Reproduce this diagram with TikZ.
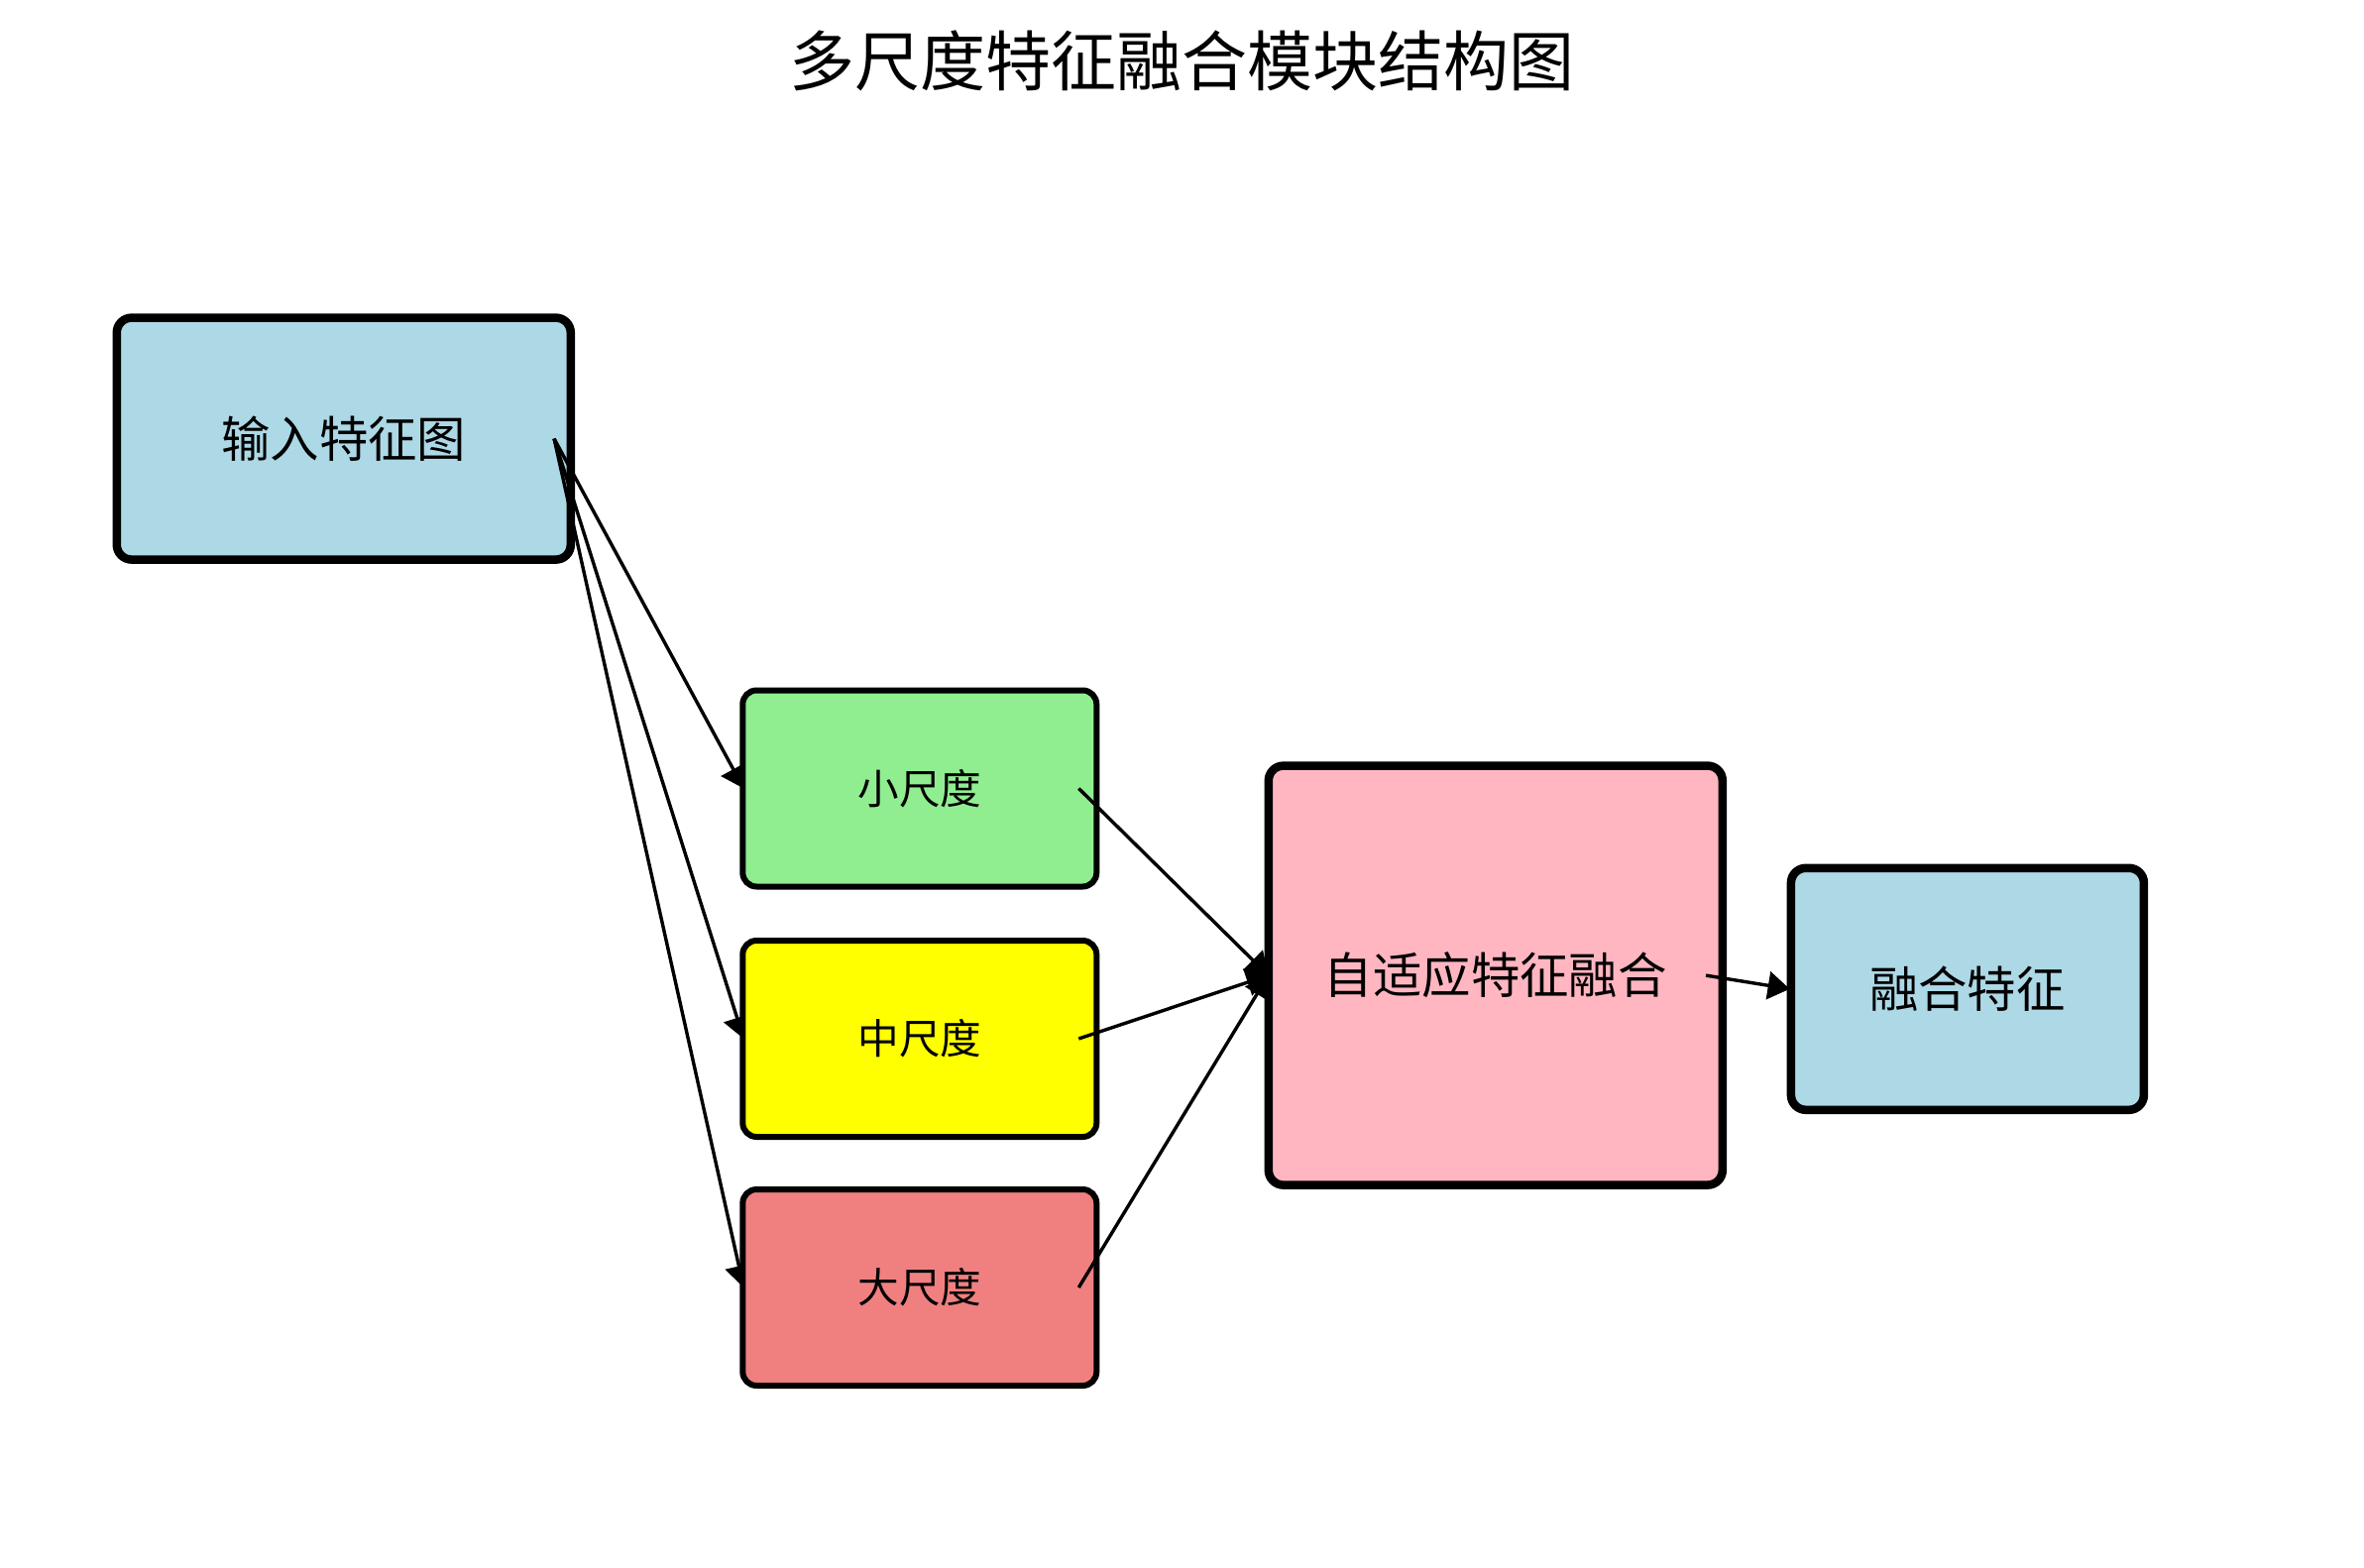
\documentclass[tikz,border=0pt]{standalone}
\usepackage{fontspec}
\setmainfont{Noto Sans CJK SC}
\usetikzlibrary{arrows.meta,calc}
\definecolor{cblue}{HTML}{ADD8E6}
\definecolor{cgreen}{HTML}{90EE90}
\definecolor{cyellow}{HTML}{FFFF00}
\definecolor{ccoral}{HTML}{F08080}
\definecolor{cpink}{HTML}{FFB6C1}
\pgfdeclarelayer{lA}
\pgfdeclarelayer{lB}
\pgfdeclarelayer{lC}
\pgfdeclarelayer{lD}
\pgfsetlayers{lA,lB,lC,lD,main}
\tikzset{
  bigbox/.style={draw=black, line width=4.25pt, rounded corners=7.5pt, inner sep=0pt,
    minimum width=229pt, minimum height=122pt, font=\fontsize{24.7pt}{28pt}\selectfont},
  scalebox/.style={draw=black, line width=3pt, rounded corners=7pt, inner sep=0pt,
    minimum width=178.5pt, minimum height=99pt, font=\fontsize{20.8pt}{24pt}\selectfont},
  conn/.style={line width=1.7pt, -{Triangle[length=11pt,width=14pt]}}
}
\begin{document}
\begin{tikzpicture}[x=0.5pt,y=-0.5pt]
\useasboundingbox (0,0) rectangle (2385,1582);
\node[font=\fontsize{33pt}{38pt}\selectfont] (title) at (1192,61) {多尺度特征融合模块结构图};
\begin{pgfonlayer}{lA}
\node[bigbox, fill=cblue] (in) at (346.8,442.6) {输入特征图};
\end{pgfonlayer}
\begin{pgfonlayer}{lC}
\node[scalebox, fill=cgreen] (s) at (927.8,795.5) {小尺度};
\node[scalebox, fill=cyellow] (m) at (927.8,1048) {中尺度};
\node[scalebox, fill=ccoral] (l) at (927.8,1299) {大尺度};
\end{pgfonlayer}
\node[bigbox, fill=cpink, minimum height=211.5pt] (fuse) at (1508.8,984.1) {自适应特征融合};
\node[bigbox, fill=cblue, minimum width=178pt] (out) at (1984.9,997.8) {融合特征};
\coordinate (inS) at ($(in.east)+(-21,0)$);
\coordinate (sS) at ($(s.east)+(-21,0)$);
\coordinate (mS) at ($(m.east)+(-21,0)$);
\coordinate (lS) at ($(l.east)+(-21,0)$);
\coordinate (fS) at ($(fuse.east)+(-21,0)$);
\begin{pgfonlayer}{lB}
\draw[conn] (inS) -- ($(s.west)+(4,0)$);
\draw[conn] (inS) -- ($(m.west)+(4,0)$);
\draw[conn] (inS) -- ($(l.west)+(4,0)$);
\end{pgfonlayer}
\begin{pgfonlayer}{lD}
\draw[conn] (sS) -- ($(fuse.west)+(4,0)$);
\draw[conn] (mS) -- ($(fuse.west)+(4,0)$);
\draw[conn] (lS) -- ($(fuse.west)+(4,0)$);
\end{pgfonlayer}
\draw[conn] (fS) -- ($(out.west)+(3,0)$);
\end{tikzpicture}
\end{document}
